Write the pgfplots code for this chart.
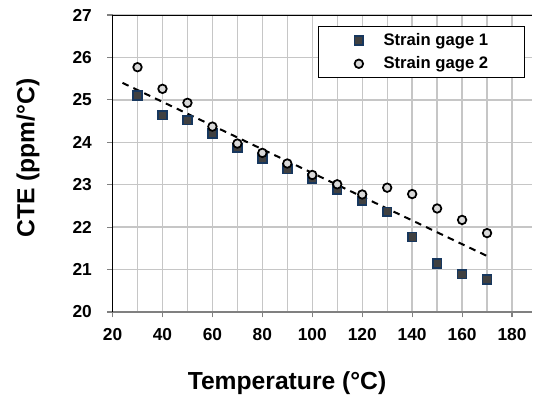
\documentclass[border=0pt]{standalone}
\usepackage{pgfplots}
\pgfplotsset{compat=1.18}
\usepackage{fontspec}
\setmainfont{Liberation Sans}
\definecolor{navy}{HTML}{17375E}
\definecolor{sqfill}{HTML}{404040}
\definecolor{cifill}{HTML}{D9D9D9}
\begin{document}
\begin{tikzpicture}
\useasboundingbox (0,0) rectangle (399.75pt,297.75pt);
\begin{axis}[
  at={(84.4pt,63.75pt)}, anchor=south west,
  scale only axis, width=314.6pt, height=222.75pt,
  xmin=20, xmax=188, ymin=20, ymax=27,
  xtick={20,40,...,180}, minor xtick={30,50,...,170}, ytick={20,21,...,27},
  grid=both,
  major grid style={draw=gray!45, line width=1pt},
  minor grid style={draw=gray!45, line width=1pt},
  axis x line*=bottom, axis y line*=left,
  x axis line style={gray, line width=1.2pt},
  y axis line style={black, line width=1.3pt},
  xtick pos=bottom, ytick pos=left,
  tick align=outside, major tick length=4pt, minor tick length=0pt,
  tick style={gray, line width=0.8pt},
  ticklabel style={font=\fontsize{13}{15}\selectfont\bfseries},
  xticklabel style={yshift=-5pt},
  yticklabel style={xshift=-8pt},
  /pgf/number format/assume math mode=true,
  xlabel={Temperature (°C)},
  ylabel={CTE (ppm/°C)},
  label style={font=\fontsize{18.5}{22}\selectfont\bfseries},
  xlabel style={at={(rel axis cs:0.416,-0.239)}, anchor=center},
  ylabel style={at={(rel axis cs:-0.2014,0.518)}, anchor=center},
  legend style={at={(0.983,0.963)}, anchor=north east, draw=black, line width=1pt,
    font=\fontsize{12.5}{14}\selectfont\bfseries, inner xsep=27pt, inner ysep=3pt, row sep=3pt,
    nodes={inner xsep=0pt}},
  legend cell align=left,
  legend image code/.code={\draw[#1] plot coordinates {(0pt,0pt)}; \path (-2pt,0pt) (18pt,0pt);},
]
\draw[black, line width=1.3pt] (rel axis cs:0,1) -- (rel axis cs:1,1);
\addplot[only marks, mark=square*, mark size=3.3pt, mark options={draw=navy, fill=sqfill, line width=1.2pt}]
 coordinates {(30,25.10) (40,24.64) (50,24.52) (60,24.21) (70,23.87) (80,23.62) (90,23.37) (100,23.15)
 (110,22.89) (120,22.62) (130,22.36) (140,21.77) (150,21.14) (160,20.89) (170,20.77)};
\addlegendentry{Strain gage 1}
\addplot[only marks, mark=*, mark size=3.2pt, mark options={draw=black, fill=cifill, line width=1.3pt}]
 coordinates {(30,25.77) (40,25.26) (50,24.93) (60,24.37) (70,23.97) (80,23.75) (90,23.50) (100,23.23)
 (110,23.01) (120,22.77) (130,22.93) (140,22.78) (150,22.44) (160,22.17) (170,21.86)};
\addlegendentry{Strain gage 2}
\addplot[black, line width=1.5pt, dash pattern=on 5pt off 4pt, forget plot]
 coordinates {(24,25.40) (170,21.32)};
\end{axis}
\end{tikzpicture}
\end{document}
